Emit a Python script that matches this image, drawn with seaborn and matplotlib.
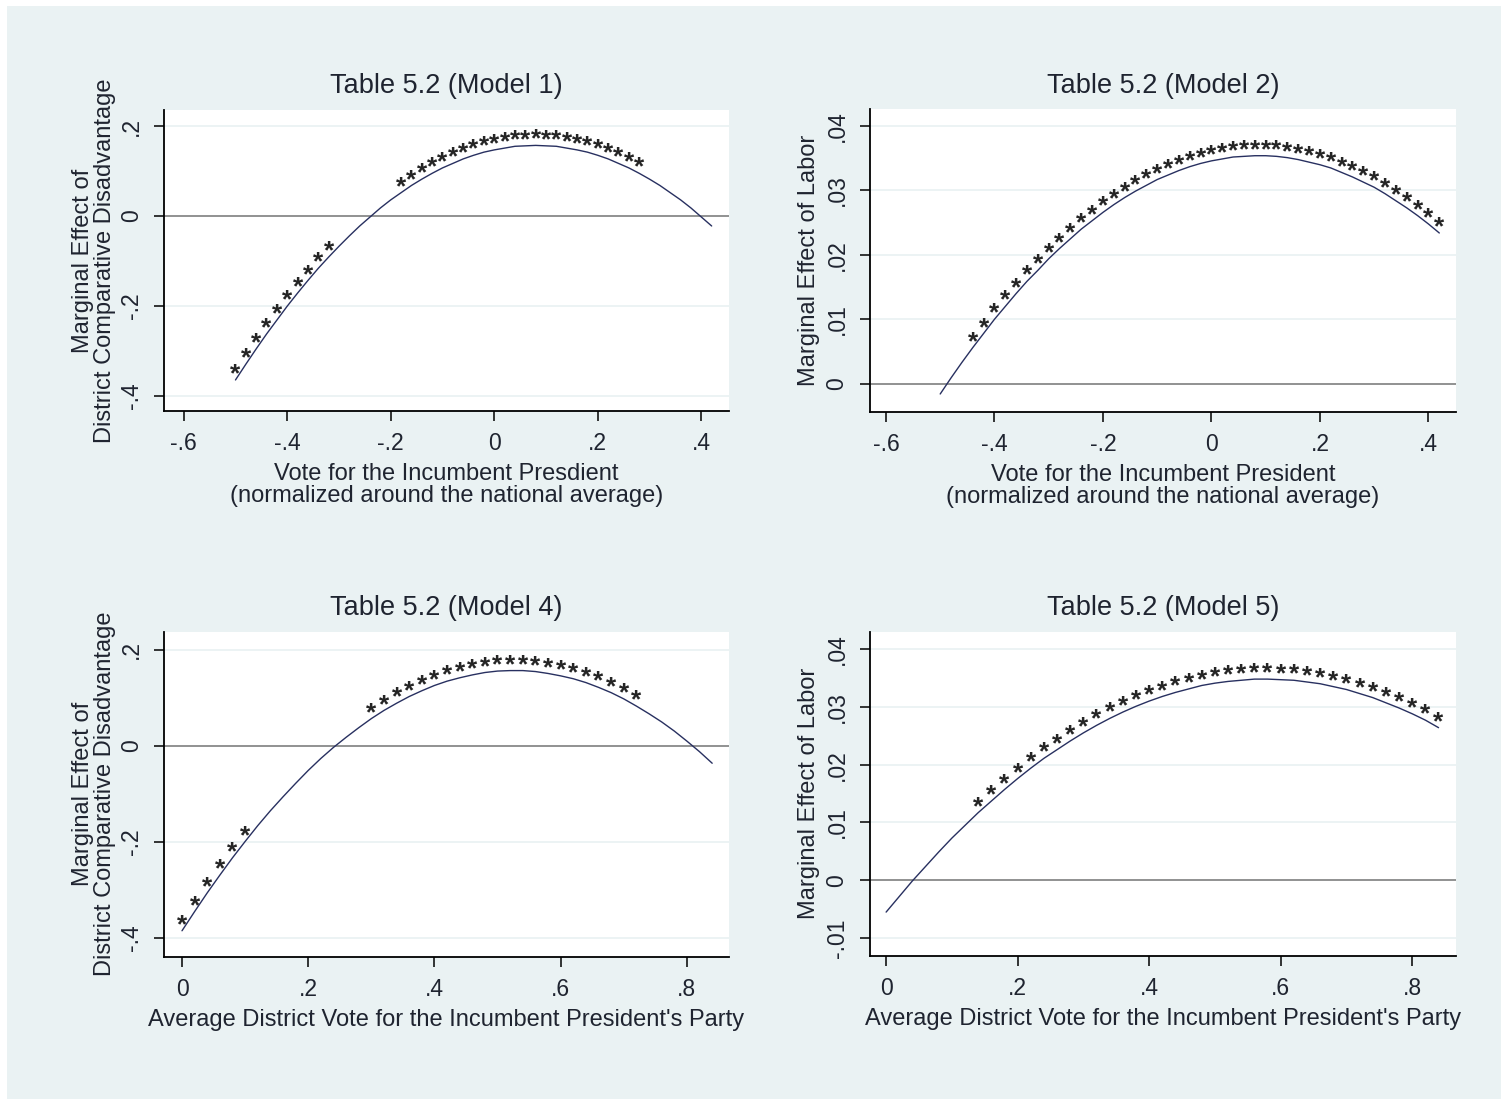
import matplotlib
matplotlib.use("Agg")
import matplotlib.pyplot as plt
from matplotlib.patches import Rectangle
import seaborn as sns

# grids of the vote share (x) used by each row of panels
x_top = [-0.50, -0.48, -0.46, -0.44, -0.42, -0.40, -0.38, -0.36, -0.34, -0.32,
         -0.30, -0.28, -0.26, -0.24, -0.22, -0.20, -0.18, -0.16, -0.14, -0.12,
         -0.10, -0.08, -0.06, -0.04, -0.02, 0.00, 0.02, 0.04, 0.06, 0.08,
         0.10, 0.12, 0.14, 0.16, 0.18, 0.20, 0.22, 0.24, 0.26, 0.28,
         0.30, 0.32, 0.34, 0.36, 0.38, 0.40, 0.42]
x_bottom = [0.00, 0.02, 0.04, 0.06, 0.08, 0.10, 0.12, 0.14, 0.16, 0.18,
            0.20, 0.22, 0.24, 0.26, 0.28, 0.30, 0.32, 0.34, 0.36, 0.38,
            0.40, 0.42, 0.44, 0.46, 0.48, 0.50, 0.52, 0.54, 0.56, 0.58,
            0.60, 0.62, 0.64, 0.66, 0.68, 0.70, 0.72, 0.74, 0.76, 0.78,
            0.80, 0.82, 0.84]

# marginal effects
me_model1 = [-0.364, -0.329, -0.295, -0.262, -0.231, -0.200, -0.171, -0.143, -0.116, -0.091,
             -0.067, -0.044, -0.022, -0.002, 0.018, 0.036, 0.052, 0.068, 0.082, 0.095,
             0.107, 0.117, 0.127, 0.135, 0.142, 0.147, 0.151, 0.155, 0.156, 0.157,
             0.156, 0.155, 0.151, 0.147, 0.142, 0.135, 0.127, 0.117, 0.107, 0.095,
             0.082, 0.068, 0.052, 0.036, 0.018, -0.002, -0.022]
me_model2 = [-0.0016, 0.0009, 0.0033, 0.0056, 0.0078, 0.0100, 0.0120, 0.0140, 0.0159, 0.0176,
             0.0194, 0.0210, 0.0225, 0.0240, 0.0253, 0.0266, 0.0278, 0.0289, 0.0299, 0.0308,
             0.0317, 0.0324, 0.0331, 0.0337, 0.0342, 0.0346, 0.0349, 0.0352, 0.0353, 0.0354,
             0.0354, 0.0353, 0.0351, 0.0348, 0.0344, 0.0340, 0.0335, 0.0328, 0.0321, 0.0313,
             0.0305, 0.0295, 0.0284, 0.0273, 0.0261, 0.0248, 0.0234]
me_model4 = [-0.385, -0.345, -0.306, -0.269, -0.233, -0.199, -0.166, -0.135, -0.106, -0.078,
             -0.051, -0.026, -0.003, 0.018, 0.038, 0.057, 0.074, 0.089, 0.103, 0.115,
             0.126, 0.135, 0.142, 0.148, 0.153, 0.156, 0.157, 0.157, 0.155, 0.151,
             0.146, 0.140, 0.132, 0.122, 0.111, 0.098, 0.083, 0.067, 0.050, 0.031,
             0.010, -0.012, -0.036]
me_model5 = [-0.0055, -0.0028, -0.0001, 0.0024, 0.0049, 0.0073, 0.0095, 0.0117, 0.0137, 0.0157,
             0.0176, 0.0194, 0.0211, 0.0226, 0.0241, 0.0255, 0.0268, 0.0280, 0.0291, 0.0301,
             0.0310, 0.0318, 0.0325, 0.0331, 0.0337, 0.0341, 0.0344, 0.0346, 0.0348, 0.0348,
             0.0347, 0.0346, 0.0343, 0.0340, 0.0335, 0.0330, 0.0323, 0.0316, 0.0307, 0.0298,
             0.0288, 0.0277, 0.0264]

# x ranges where the effect is significant (marked with *)
sig_model1 = [(-0.50, -0.32), (-0.18, 0.28)]
sig_model2 = [(-0.44, 0.42)]
sig_model4 = [(0.00, 0.10), (0.30, 0.72)]
sig_model5 = [(0.14, 0.84)]

titles = ["Table 5.2 (Model 1)", "Table 5.2 (Model 2)",
          "Table 5.2 (Model 4)", "Table 5.2 (Model 5)"]
xlab_top = ["Vote for the Incumbent Presdient\n(normalized around the national average)",
            "Vote for the Incumbent President\n(normalized around the national average)"]
xlab_bottom = "Average District Vote for the Incumbent President's Party"
ylab_cd = "Marginal Effect of\nDistrict Comparative Disadvantage"
ylab_labor = "Marginal Effect of Labor"

xt_top = [-0.6, -0.4, -0.2, 0, 0.2, 0.4]
xt_top_lab = ["-.6", "-.4", "-.2", "0", ".2", ".4"]
xt_bot = [0, 0.2, 0.4, 0.6, 0.8]
xt_bot_lab = ["0", ".2", ".4", ".6", ".8"]
yt_cd = [-0.4, -0.2, 0, 0.2]
yt_cd_lab = ["-.4", "-.2", "0", ".2"]
yt_lab2 = [0, 0.01, 0.02, 0.03, 0.04]
yt_lab2_lab = ["0", ".01", ".02", ".03", ".04"]
yt_lab5 = [-0.01, 0, 0.01, 0.02, 0.03, 0.04]
yt_lab5_lab = ["-.01", "0", ".01", ".02", ".03", ".04"]

sns.set_style("white")
plt.rcParams["font.family"] = ["Liberation Sans", "DejaVu Sans"]

bg = "#eaf2f3"
txt = "#1f2430"
line_col = "#283060"

fig = plt.figure(figsize=(15.01, 10.99), dpi=100)
fig.patches.append(Rectangle((7 / 1501, 0), 1, 1 - 6 / 1099, transform=fig.transFigure,
                             facecolor=bg, edgecolor="none", zorder=-5))


def panel(rect, xs, ys, sig, title, xlabel, ylabel, xlim, ylim, xt, xtl, yt, ytl, ylpad):
    ax = fig.add_axes(rect)
    ax.set_facecolor("white")
    for v in yt:
        ax.axhline(v, color=bg, lw=1.3, zorder=0)
    ax.axhline(0, color="#8a8a8a", lw=1.3, zorder=1)
    sns.lineplot(x=xs, y=ys, ax=ax, color=line_col, lw=1.0, zorder=2)
    for x, y in zip(xs, ys):
        if any(lo - 1e-9 <= x <= hi + 1e-9 for lo, hi in sig):
            ax.annotate("*", (x, y), xytext=(0, -1), textcoords="offset points",
                        ha="center", va="baseline", fontsize=19, fontweight="bold",
                        color="#252525", zorder=3)
    ax.set_xlim(xlim)
    ax.set_ylim(ylim)
    ax.set_xticks(xt)
    ax.set_xticklabels(xtl)
    ax.set_yticks(yt)
    ax.set_yticklabels(ytl, rotation=90, va="center")
    ax.tick_params(direction="out", length=7.2, width=1.1, pad=8, labelsize=16.5,
                   colors="black", labelcolor=txt, left=True, bottom=True)
    sns.despine(ax=ax)
    for s in ["left", "bottom"]:
        ax.spines[s].set_color("black")
        ax.spines[s].set_linewidth(1.3)
    ax.set_title(title, fontsize=19.5, color=txt, pad=12)
    ax.set_xlabel(xlabel, fontsize=17, color=txt, labelpad=6, linespacing=1.0)
    ax.set_ylabel(ylabel, fontsize=17, color=txt, labelpad=ylpad, linespacing=1.0)
    return ax


panel([0.1093, 0.6260, 0.3762, 0.2739], x_top, me_model1, sig_model1, titles[0],
      xlab_top[0], ylab_cd, (-0.638, 0.453), (-0.433, 0.2356), xt_top, xt_top_lab,
      yt_cd, yt_cd_lab, 3)
panel([0.5794, 0.6251, 0.3907, 0.2754], x_top, me_model2, sig_model2, titles[1],
      xlab_top[1], ylab_labor, (-0.630, 0.451), (-0.0044, 0.0426), xt_top, xt_top_lab,
      yt_lab2, yt_lab2_lab, 4)
panel([0.1094, 0.1295, 0.3760, 0.2957], x_bottom, me_model4, sig_model4, titles[2],
      xlab_bottom, ylab_cd, (-0.0282, 0.866), (-0.439, 0.238), xt_bot, xt_bot_lab,
      yt_cd, yt_cd_lab, 3)
panel([0.5794, 0.1301, 0.3907, 0.2951], x_bottom, me_model5, sig_model5, titles[3],
      xlab_bottom, ylab_labor, (-0.025, 0.8667), (-0.0131, 0.0430), xt_bot, xt_bot_lab,
      yt_lab5, yt_lab5_lab, 4)

fig.savefig("out.png", dpi=100, facecolor="white")
